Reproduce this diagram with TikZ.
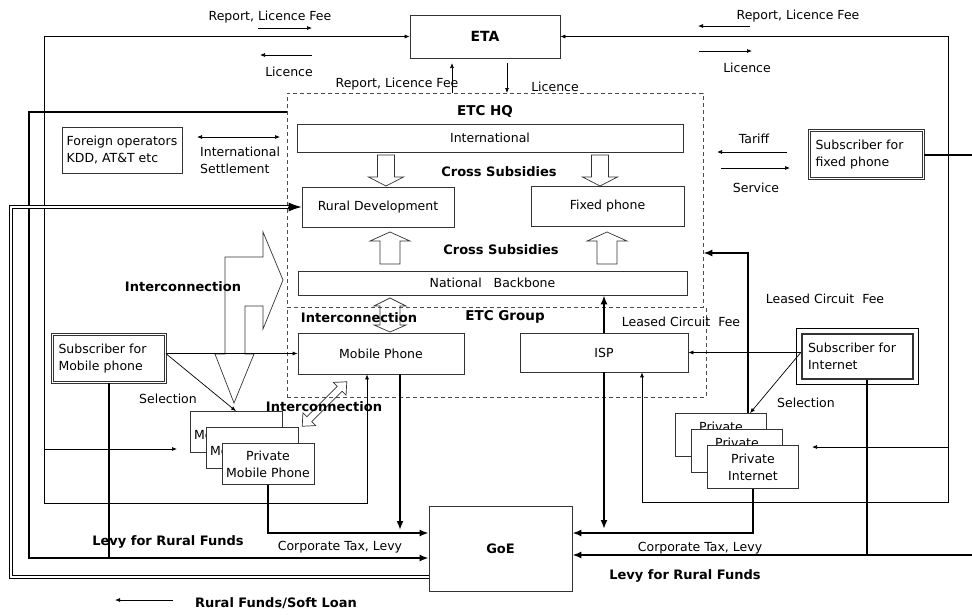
\documentclass[tikz,border=0pt]{standalone}
\usepackage{fontspec}
\setmainfont{DejaVu Sans}
\usetikzlibrary{arrows.meta}

\begin{document}
\begin{tikzpicture}[x=1pt, y=-1pt, >={Latex[length=5pt,width=4pt]}]
        \tikzset{
  unitbox/.style={
    rectangle,
    draw=black!80,
    line width=.7pt,
    fill=white,
    inner sep=0pt,
    align=center,
    font=\fontsize{12.5}{17}\selectfont
  },
  subscriber/.style={
    unitbox,
    double,
    double distance=1.6pt,
    line width=.6pt,
    inner xsep=6pt,
    align=left
  },
  groupbox/.style={
    rectangle,
    draw=black!70,
    line width=.7pt,
    dash pattern=on 4pt off 3pt
  },
  flowlabel/.style={font=\fontsize{12.5}{17}\selectfont, inner sep=0pt},
  boldlabel/.style={font=\bfseries\fontsize{13}{15}\selectfont, inner sep=0pt},
  thinflow/.style={line width=.7pt},
  levy/.style={
    line width=2pt,
    >={Latex[length=9pt,width=7pt]}
  },
  fund/.style={
    draw,
    line width=.8pt,
    double,
    double distance=2pt
  },
  blockarrow/.style={draw=black!80, line width=.7pt}
}

\useasboundingbox (0,0) rectangle (972,614);

% ETC frames
\node [groupbox, minimum width=416, minimum height=214] (hq) at (495,200) {};
\node [groupbox, minimum width=419, minimum height=90] (group) at (496.5,352) {};

\node [unitbox, minimum width=150, minimum height=43, font=\bfseries\fontsize{14}{16}\selectfont] (eta) at (485,36.5) {ETA};
\node [unitbox, minimum width=143, minimum height=85, font=\bfseries\fontsize{13}{15}\selectfont] (goe) at (500.5,548.5) {GoE};
\node [unitbox, minimum width=386, minimum height=28] (international) at (490,138) {International};
\node [unitbox, minimum width=152, minimum height=40] (rural) at (378,207) {Rural Development};
\node [unitbox, minimum width=153, minimum height=40] (fixed) at (607.5,206.5) {Fixed phone};
\node [unitbox, minimum width=389, minimum height=24] (backbone) at (492.5,283) {National~~~Backbone};
\node [unitbox, minimum width=166, minimum height=41] (mobile) at (381,353.5) {Mobile Phone};
\node [unitbox, minimum width=168, minimum height=39] (isp) at (604,352.5) {ISP};
\node [unitbox, minimum width=120, minimum height=46, align=left] (foreign) at (122,150) {Foreign operators\\KDD, AT\&T etc};

\node [subscriber, minimum width=113, minimum height=48, text width=101] (sub-mobile) at (109,358.5) {Subscriber for\\Mobile phone};
\node [subscriber, minimum width=114, minimum height=48, text width=102] (sub-fixed) at (866.5,154.5) {Subscriber for\\fixed phone};
\node [unitbox, line width=2.5pt, inner xsep=6pt, align=left, minimum width=111, minimum height=45, text width=99] (sub-internet) at (857.5,356.5) {Subscriber for\\Internet};
\draw [line width=.6pt] ([shift={(-4,-4)}]sub-internet.north west) rectangle ([shift={(4,4)}]sub-internet.south east);

\foreach \t [count=\i] in {{\raisebox{-7pt}[0pt][0pt]{Mobile Phone}}, {\raisebox{-7pt}[0pt][0pt]{Mobile Phone}}, {Private\\Mobile Phone}}
  \node [unitbox, minimum width=92, minimum height=41] (private-mobile-\i) at ({220+16*\i},{416+16*\i}) {\t};

\foreach \i in {1,2,3}
  \node [unitbox, minimum width=91, minimum height=43] (private-internet-\i) at ({705+16*\i},{419+16*\i}) {Private\\Internet};

% hollow block arrows
\foreach \bx in {386,600}
  \draw [blockarrow] (\bx-8.5,155) -- (\bx+8.5,155) -- (\bx+8.5,177) -- (\bx+17.5,177) -- (\bx,186) -- (\bx-17.5,177) -- (\bx-8.5,177) -- cycle;

\foreach \bx in {390,607}
  \draw [blockarrow] (\bx-10,264) -- (\bx-10,241) -- (\bx-20,241) -- (\bx,232) -- (\bx+20,241) -- (\bx+10,241) -- (\bx+10,264) -- cycle;

\draw [blockarrow] (390,298) -- (406,306) -- (400,306) -- (400,325) -- (406,325) -- (390,332) -- (374,325) -- (380,325) -- (380,306) -- (374,306) -- cycle;

\draw [blockarrow] (283,280) -- (263,232) -- (263,257) -- (225,257) -- (225,354) -- (215,354) -- (234,403) -- (254,354) -- (245,354) -- (245,306) -- (263,306) -- (263,329) -- cycle;

\begin{scope}[shift={(324.5,404)}, rotate=45]
  \draw [blockarrow] (-31.5,0) -- (-21.5,-9) -- (-21.5,-3.5) -- (21.5,-3.5) -- (21.5,-9) -- (31.5,0) -- (21.5,9) -- (21.5,3.5) -- (-21.5,3.5) -- (-21.5,9) -- cycle;
\end{scope}

% short flow arrows
\foreach \n/\x/\y in {rep-a/258/28, rep-b/312/28, lic-a/312/55, lic-b/260/55, rep-c/750/26, rep-d/698/26, lic-c/699/51, lic-d/752/51, up-a/452/93, up-b/452/63, down-a/507/63, down-b/507/93, tar-a/787/152, tar-b/717/152, srv-a/721/168, srv-b/790/168, fund-a/173/600, fund-b/115/600, loop-l/44/449, tip-l/177/449, loop-r/948/447, tip-r/812/447, set-a/197/137, set-b/280/137}
  \coordinate (\n) at (\x,\y);

\foreach \a/\b in {rep-a/rep-b, lic-a/lic-b, rep-c/rep-d, lic-c/lic-d, up-a/up-b, down-a/down-b, tar-a/tar-b, srv-a/srv-b, fund-a/fund-b, loop-l/tip-l, loop-r/tip-r}
  \draw [thinflow, ->] (\a) -- (\b);
\draw [thinflow, <->] (set-a) -- (set-b);

% licence loops
\draw [thinflow, <->] (eta.west) -| (44,503) -| (367,0 |- mobile.south);
\draw [thinflow, <->] (eta.east) -| (948,502) -| (642,0 |- isp.south);

\draw [thinflow, ->] (sub-mobile.east |- mobile.west) -- (mobile.west);
\draw [thinflow, ->] (sub-mobile.east |- mobile.west) -- (private-mobile-1.north);
\draw [thinflow, ->] (sub-internet.west |- isp.east) -- (isp.east);
\draw [thinflow, ->] (sub-internet.west |- isp.east) -- ([xshift=29]private-internet-1.north);

% levies and taxes
\draw [levy, ->] (hq.west |- 0,112) -| (29,558) -- (goe.west |- 0,558);
\draw [levy] (sub-mobile.south) -- (sub-mobile.south |- 0,557);
\draw [levy, ->] (400,0 |- mobile.south) -- (400,530);
\draw [levy, ->] (private-mobile-3.south) |- (goe.west |- 0,533);
\draw [levy, ->] (isp.north) -- (isp.north |- backbone.south);
\draw [levy, ->] (isp.south) -- (isp.south |- 0,529);
\draw [levy, ->] (private-internet-3.south) |- (goe.east |- 0,533);
\draw [levy, ->] (748,0 |- private-internet-1.north) |- (hq.east |- 0,253);
\draw [levy] (867,0 |- sub-internet.south) -- (867,556);
\draw [levy, ->] (sub-fixed.east) -| (990,555) -- (goe.east |- 0,555);

% rural funds
\draw [fund] (goe.west |- 0,577) -| (11,207) -- (289,207);
\draw [line width=1pt, -{Latex[length=13pt,width=9pt]}] (288,207) -- (rural.west);

\foreach \n/\x/\y/\t in {rep-left/270/17/{Report, Licence Fee}, lic-left/289/72/Licence, rep-right/798/16/{Report, Licence Fee}, lic-right/747/68/Licence, rep-mid/397/84/{Report, Licence Fee}, lic-mid/555/87/Licence, tariff/754/139/Tariff, service/756/188/Service, lease-in/681/322/{Leased Circuit~~Fee}, lease-out/825/299/{Leased Circuit~~Fee}, sel-left/168/399/Selection, sel-right/806/403/Selection, tax-left/340/547/{Corporate Tax, Levy}, tax-right/700/548/{Corporate Tax, Levy}}
  \node [flowlabel] (\n) at (\x,\y) {\t};
\node [flowlabel, align=left, anchor=west] (settlement) at (200,160) {International\\Settlement};

\foreach \n/\x/\y/\t in {cross-top/499/172/{Cross Subsidies}, cross-bot/501/250/{Cross Subsidies}, ic-big/183/287/Interconnection, ic-group/359/318/Interconnection, ic-diag/324/407/Interconnection, levy-left/168/542/{Levy for Rural Funds}, levy-right/685/576/{Levy for Rural Funds}}
  \node [boldlabel] (\n) at (\x,\y) {\t};
\node [boldlabel, font=\bfseries\fontsize{13.5}{15}\selectfont] (hq-title) at (485,111) {ETC HQ};
\node [boldlabel, font=\bfseries\fontsize{13.5}{15}\selectfont] (group-title) at (505,317) {ETC Group};
\node [boldlabel] (soft-loan) at (276,603) {Rural Funds/Soft Loan};
      \end{tikzpicture}
\end{document}
